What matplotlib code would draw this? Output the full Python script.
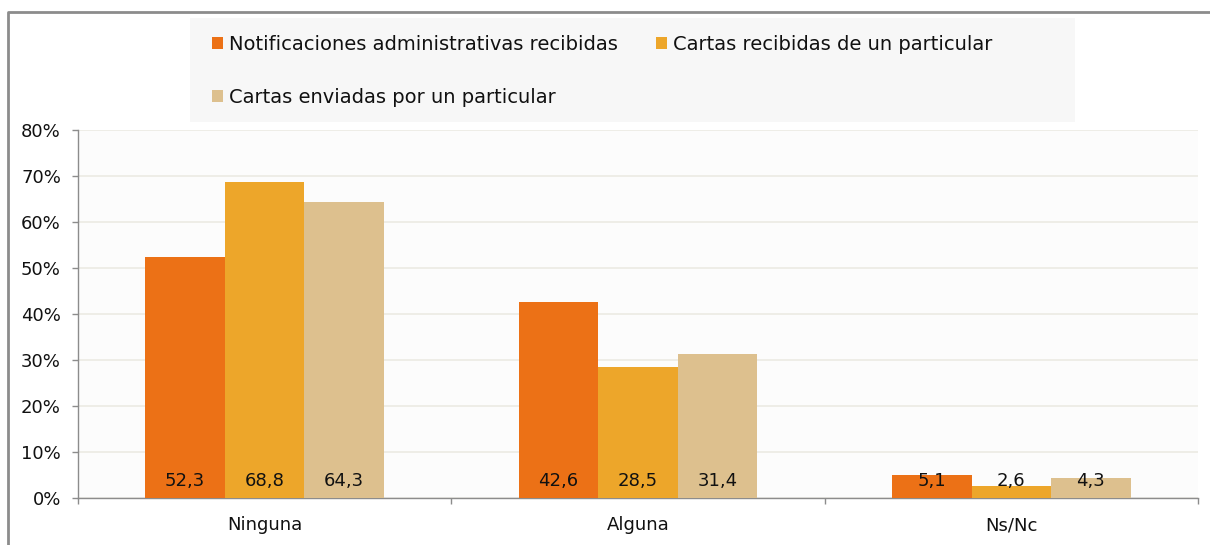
import matplotlib
matplotlib.use("Agg")
import matplotlib.pyplot as plt
from matplotlib.patches import Rectangle
from matplotlib.lines import Line2D
import numpy as np

plt.rcParams['font.family'] = ['DejaVu Sans']

# datos
categorias = ['Ninguna', 'Alguna', 'Ns/Nc']
series = ['Notificaciones administrativas recibidas',
          'Cartas recibidas de un particular',
          'Cartas enviadas por un particular']
notificaciones = [52.3, 42.6, 5.1]
cartas_recibidas = [68.8, 28.5, 2.6]
cartas_enviadas = [64.3, 31.4, 4.3]
y_ticks = [0, 10, 20, 30, 40, 50, 60, 70, 80]

colores = ['#EC7116', '#EDA62A', '#DDC08E']
valores = [notificaciones, cartas_recibidas, cartas_enviadas]

fig = plt.figure(figsize=(12.1, 5.45), dpi=100)
ax = fig.add_axes([78 / 1210, 1 - 498 / 545, 1120 / 1210, 368 / 545])
ax.set_facecolor('#FCFCFC')

x = np.arange(len(categorias))
ancho = 0.213
handles = []
for j, (vals, col) in enumerate(zip(valores, colores)):
    pos = x + (j - 1) * ancho
    b = ax.bar(pos, vals, width=ancho, color=col, zorder=3, label=series[j])
    handles.append(b)
    # etiquetas en la base de la barra
    for p, v in zip(pos, vals):
        ax.annotate(f'{v:.1f}'.replace('.', ','), (p, 0), xytext=(0, 17),
                    textcoords='offset pixels', ha='center', va='center',
                    fontsize=13, color='#111111', zorder=4)

ax.set_xlim(-0.5, 2.5)
ax.set_ylim(0, 80)
ax.set_yticks(y_ticks)
ax.set_yticklabels([f'{t}%' for t in y_ticks], fontsize=13, color='#111111')
ax.set_xticks(x)
ax.set_xticklabels(categorias, fontsize=13, color='#111111')
ax.set_xticks([-0.5, 0.5, 1.5, 2.5], minor=True)
ax.tick_params(axis='x', which='major', length=0, pad=13)
ax.tick_params(axis='x', which='minor', length=4.3, color='#8C8C8C', width=1)
ax.tick_params(axis='y', length=4.3, color='#8C8C8C', width=1, pad=8)
ax.yaxis.grid(True, color='#ECEBE3', linewidth=1.2, zorder=0)
for s in ['top', 'right']:
    ax.spines[s].set_visible(False)
for s in ['left', 'bottom']:
    ax.spines[s].set_color('#8C8C8C')
    ax.spines[s].set_linewidth(1)

# caja de la leyenda
fig.patches.append(Rectangle((190 / 1210, 1 - 122 / 545), 885 / 1210, 104 / 545,
                             transform=fig.transFigure, facecolor='#F7F7F7',
                             edgecolor='none', zorder=0))
fig.legend([handles[0], handles[2], handles[1]],
           [series[0], series[2], series[1]],
           ncol=2, loc='upper left', bbox_to_anchor=(212 / 1210, 1 - 35 / 545),
           frameon=False, fontsize=14, borderpad=0, borderaxespad=0,
           handlelength=0.55, handleheight=0.55, handletextpad=0.3,
           columnspacing=2.0, labelspacing=1.75, labelcolor='#111111')

# marco
fig.lines.append(Line2D([8 / 1210, 8 / 1210, 1], [0, 1 - 12 / 545, 1 - 12 / 545],
                        transform=fig.transFigure, color='#8C8C8C', linewidth=2))

fig.savefig('out.png', dpi=100)
